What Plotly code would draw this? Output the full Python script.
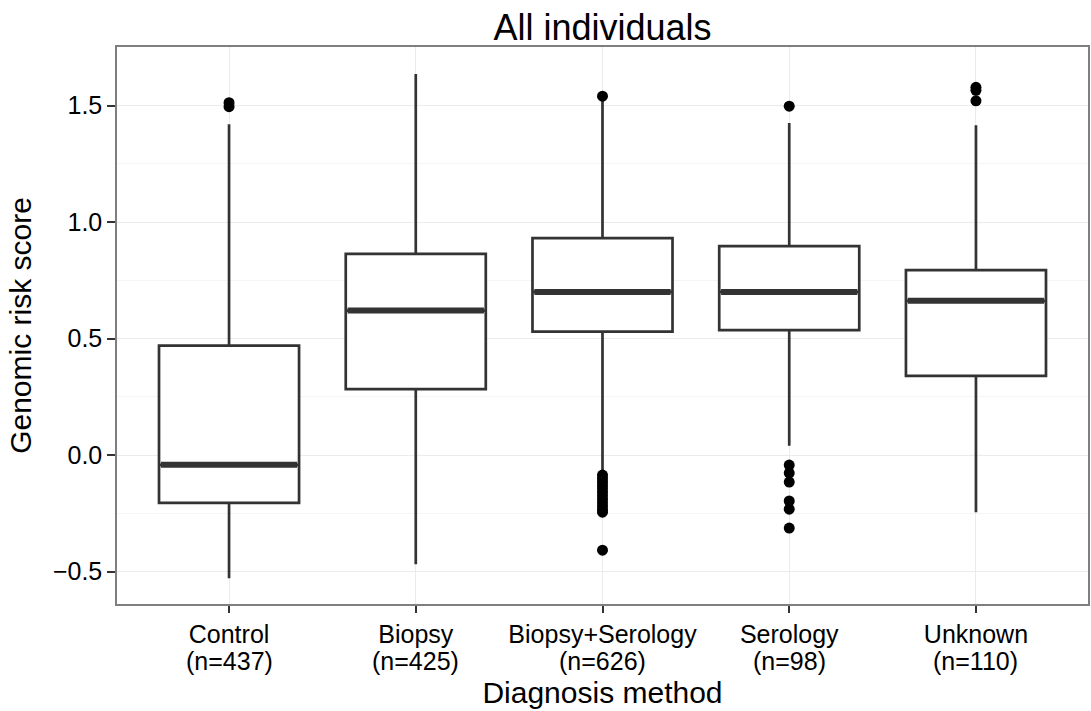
import plotly.graph_objects as go

categories = ["Control", "Biopsy", "Biopsy+Serology", "Serology", "Unknown"]
counts = [437, 425, 626, 98, 110]
q1 = [-0.205, 0.283, 0.530, 0.536, 0.340]
median = [-0.042, 0.620, 0.700, 0.700, 0.662]
q3 = [0.470, 0.863, 0.931, 0.897, 0.794]
lower_whisker = [-0.528, -0.468, -0.065, 0.040, -0.245]
upper_whisker = [1.420, 1.635, 1.525, 1.425, 1.415]
outliers = [
    [1.495, 1.512],
    [],
    [1.540, -0.086, -0.10, -0.115, -0.13, -0.145, -0.16, -0.175, -0.19, -0.205, -0.22, -0.235, -0.245, -0.408],
    [1.497, -0.043, -0.077, -0.116, -0.197, -0.232, -0.313],
    [1.520, 1.565, 1.578],
]

FONT = "Liberation Sans, Arial, Helvetica, sans-serif"
BOX_W = 0.75
TICK_SIZE = 25
xs = list(range(len(categories)))

fig = go.Figure()
for i in xs:
    fig.add_trace(go.Box(
        x=[i], q1=[q1[i]], median=[median[i]], q3=[q3[i]],
        lowerfence=[lower_whisker[i]], upperfence=[upper_whisker[i]],
        width=BOX_W, whiskerwidth=0, fillcolor="white",
        line=dict(color="#333333", width=2.7),
        boxpoints=False, showlegend=False, hoverinfo="skip",
    ))
    fig.add_trace(go.Scatter(
        x=[i - BOX_W / 2 + 0.01, i + BOX_W / 2 - 0.01], y=[median[i], median[i]],
        mode="lines", line=dict(color="#333333", width=6),
        showlegend=False, hoverinfo="skip",
    ))
    if outliers[i]:
        fig.add_trace(go.Scatter(
            x=[i] * len(outliers[i]), y=outliers[i], mode="markers",
            marker=dict(color="black", size=11),
            showlegend=False, hoverinfo="skip",
        ))

for i in xs:
    fig.add_annotation(
        x=i, xref="x", y=-0.102, yref="paper", yanchor="middle",
        text=f"(n={counts[i]})", showarrow=False,
        font=dict(size=TICK_SIZE, color="black", family=FONT),
    )

fig.update_layout(
    width=1091, height=711,
    margin=dict(l=117, r=1, t=47, b=107),
    paper_bgcolor="white", plot_bgcolor="white",
    font=dict(family=FONT, color="black"),
    title=dict(text="All individuals", xref="paper", x=0.5, xanchor="center",
               y=0.962, yanchor="middle",
               font=dict(size=36, color="black", family=FONT)),
    xaxis=dict(
        range=[-0.6, 4.6], tickmode="array", tickvals=xs, ticktext=categories,
        showgrid=True, gridcolor="#ebebeb", gridwidth=1,
        ticks="outside", ticklen=7, tickcolor="#333333", tickwidth=1.5,
        tickfont=dict(size=TICK_SIZE, color="black", family=FONT),
        showline=True, linecolor="#7f7f7f", linewidth=1.5, mirror=True,
        zeroline=False,
        title=dict(text="Diagnosis method", font=dict(size=30, color="black", family=FONT), standoff=35),
    ),
    yaxis=dict(
        range=[-0.639, 1.751], tickmode="array", tickvals=[-0.5, 0, 0.5, 1.0, 1.5],
        ticktext=["\u22120.5", "0.0", "0.5", "1.0", "1.5"],
        showgrid=True, gridcolor="#ebebeb", gridwidth=1,
        minor=dict(tickmode="array", tickvals=[-0.25, 0.25, 0.75, 1.25], showgrid=True,
                   gridcolor="#f5f5f5", gridwidth=1, ticks=""),
        ticks="outside", ticklen=8, tickcolor="#333333", tickwidth=1.5,
        tickfont=dict(size=TICK_SIZE, color="black", family=FONT),
        showline=True, linecolor="#7f7f7f", linewidth=1.5, mirror=True,
        zeroline=False,
        title=dict(text="Genomic risk score", font=dict(size=30, color="black", family=FONT), standoff=12),
    ),
)

fig.write_html("out.html")
